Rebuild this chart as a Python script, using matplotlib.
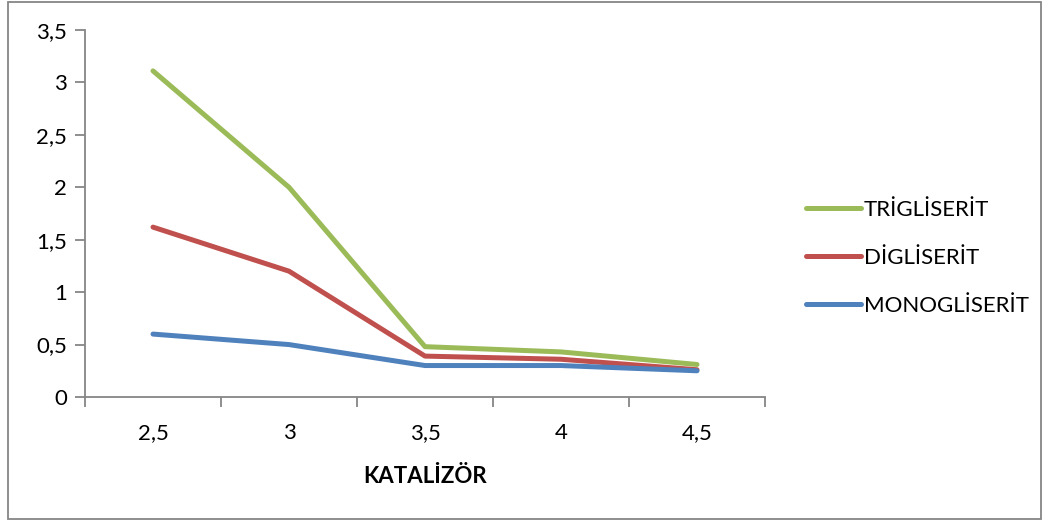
import matplotlib.pyplot as plt
from matplotlib.patches import Rectangle

# ----------------------------------------------------
# DATA
# ----------------------------------------------------
categories = ["2,5", "3", "3,5", "4", "4,5"]
trigliserit = [3.11, 2.00, 0.48, 0.43, 0.31]
digliserit = [1.62, 1.20, 0.39, 0.36, 0.26]
monogliserit = [0.60, 0.50, 0.30, 0.30, 0.25]
y_ticks = [0, 0.5, 1, 1.5, 2, 2.5, 3, 3.5]
y_labels = ["0", "0,5", "1", "1,5", "2", "2,5", "3", "3,5"]

AXIS_GRAY = "#868686"
FS = 16

plt.rcParams['font.family'] = ['Lato', 'DejaVu Sans']

fig = plt.figure(figsize=(10.49, 5.21), dpi=100)
W, H = 1049, 521
ax = fig.add_axes([85 / W, (H - 397) / H, 680 / W, 367 / H])

# outer chart border
fig.patches.append(Rectangle((8 / W, 2 / H), 1033 / W, 517 / H,
                             transform=fig.transFigure, fill=False,
                             edgecolor=AXIS_GRAY, linewidth=1.3))

x = list(range(len(categories)))
ax.plot(x, trigliserit, color="#9BBB59", lw=3.6, label="TRİGLİSERİT",
        solid_capstyle="round")
ax.plot(x, digliserit, color="#C0504D", lw=3.6, label="DİGLİSERİT",
        solid_capstyle="round")
ax.plot(x, monogliserit, color="#4F81BD", lw=3.6, label="MONOGLİSERİT",
        solid_capstyle="round")

ax.set_xlim(-0.5, len(categories) - 0.5)
ax.set_ylim(0, 3.5)
ax.set_yticks(y_ticks)
ax.set_yticklabels(y_labels, fontsize=FS)
ax.set_xticks(x)
ax.set_xticklabels(categories, fontsize=FS)
ax.set_xticks([i - 0.5 for i in range(len(categories) + 1)], minor=True)
ax.tick_params(axis="x", which="major", length=0, pad=19)
ax.tick_params(axis="x", which="minor", length=7, color=AXIS_GRAY, width=1.3,
               direction="out")
ax.tick_params(axis="y", length=7, color=AXIS_GRAY, width=1.3, pad=6)

for side in ["top", "right"]:
    ax.spines[side].set_visible(False)
for side in ["left", "bottom"]:
    ax.spines[side].set_color(AXIS_GRAY)
    ax.spines[side].set_linewidth(1.3)

ax.set_xlabel("KATALİZÖR", fontsize=FS, fontweight="bold", labelpad=16)

ax.legend(loc="center left", bbox_to_anchor=(797 / W, (H - 258) / H),
          bbox_transform=fig.transFigure, frameon=False, fontsize=FS,
          handlelength=2.5, handletextpad=0.1, labelspacing=1.25,
          borderaxespad=0)

plt.savefig("out.png", dpi=100)
plt.close()
